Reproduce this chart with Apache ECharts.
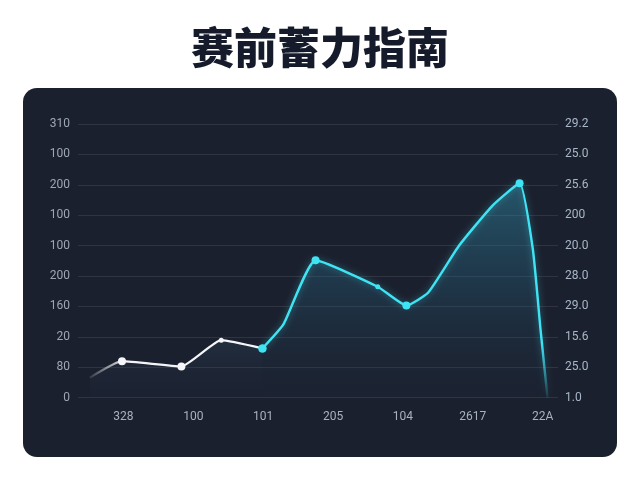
<!DOCTYPE html>
<html>
<head>
<meta charset="utf-8">
<script src="https://cdn.jsdelivr.net/npm/echarts@6/dist/echarts.min.js"></script>
<style>
html,body{margin:0;padding:0;background:#ffffff;}
#c{width:640px;height:480px;}
</style>
</head>
<body>
<div id="c"></div>
<script>
// ---- data ----
const title = '赛前蓄力指南';
const xLabels = ['328', '100', '101', '205', '104', '2617', '22A'];
const leftLabels = ['0', '80', '20', '160', '200', '100', '100', '200', '100', '310'];
const rightLabels = ['1.0', '25.0', '15.6', '29.0', '28.0', '20.0', '200', '25.6', '25.0', '29.2'];
// x in label-slot units (label i sits at i+1), y in gridline-step units
const xs = [0.52, 0.98, 1.83, 2.40, 2.99, 3.29, 3.75, 4.64, 5.05, 5.36, 5.80, 6.28, 6.67, 6.86, 6.97, 7.07];
const ys = [0.66, 1.20, 1.03, 1.89, 1.62, 2.41, 4.52, 3.65, 3.03, 3.45, 4.99, 6.31, 7.05, 4.88, 2.24, 0];
const splitAt = 4; // index where the line turns from white to cyan

// ---- build ----
const WHITE = '#f4f6fa';
const CYAN = '#3fe4f4';
const bigMarks = new Set([1, 2, 4, 6, 8, 12]);
const smallMarks = new Set([3, 7]);

function pt(i, color) {
  const item = { value: [xs[i], ys[i]] };
  if (bigMarks.has(i)) {
    item.symbolSize = 8;
    item.itemStyle = { color: color, borderWidth: 0 };
  } else if (smallMarks.has(i)) {
    item.symbolSize = 5;
    item.itemStyle = { color: color, borderWidth: 0 };
  } else {
    item.symbolSize = 0;
  }
  return item;
}
const whiteData = [];
for (let i = 0; i <= splitAt; i++) whiteData.push(pt(i, i === splitAt ? CYAN : WHITE));
const cyanData = [];
for (let i = splitAt; i < xs.length; i++) cyanData.push(pt(i, CYAN));

const chart = echarts.init(document.getElementById('c'));
chart.setOption({
  backgroundColor: '#ffffff',
  animation: false,
  title: {
    text: title,
    left: 'center',
    top: 21,
    textStyle: {
      fontFamily: 'Noto Sans CJK SC',
      fontSize: 43,
      fontWeight: 900,
      color: '#151b2b'
    }
  },
  graphic: [{
    type: 'rect',
    z: -10,
    shape: { x: 23, y: 88, width: 594, height: 369, r: 14 },
    style: { fill: '#1b202e' }
  }],
  grid: { left: 78, right: 82, top: 124, bottom: 82.3 },
  xAxis: {
    type: 'value',
    min: 0.35,
    max: 7.22,
    axisLine: { show: false },
    axisTick: { show: false },
    splitLine: { show: false },
    axisLabel: {
      customValues: [1, 2, 3, 4, 5, 6, 7],
      formatter: v => xLabels[Math.round(v) - 1] || '',
      color: '#a9b1bf',
      fontSize: 12,
      fontFamily: 'Roboto',
      margin: 13
    }
  },
  yAxis: [{
    type: 'value',
    min: 0, max: 9, interval: 1,
    axisLine: { show: false },
    axisTick: { show: false },
    splitLine: { lineStyle: { color: 'rgba(255,255,255,0.09)', width: 1 } },
    axisLabel: {
      formatter: v => leftLabels[Math.round(v)],
      color: '#9ea6b5',
      fontSize: 12,
      fontFamily: 'Roboto',
      margin: 8
    }
  }, {
    type: 'value',
    min: 0, max: 9, interval: 1,
    position: 'right',
    axisLine: { show: false },
    axisTick: { show: false },
    splitLine: { show: false },
    axisLabel: {
      formatter: v => rightLabels[Math.round(v)],
      color: '#a8b8c8',
      fontSize: 12,
      fontFamily: 'Roboto',
      margin: 7
    }
  }],
  series: [{
    type: 'line',
    data: whiteData,
    smooth: 0.15,
    symbol: 'circle',
    z: 3,
    lineStyle: {
      width: 2.2,
      color: new echarts.graphic.LinearGradient(0, 0, 1, 0, [
        { offset: 0, color: 'rgba(255,255,255,0.05)' },
        { offset: 0.22, color: 'rgba(255,255,255,0.95)' },
        { offset: 1, color: WHITE }
      ])
    },
    areaStyle: {
      color: new echarts.graphic.LinearGradient(0, 0, 0, 1, [
        { offset: 0, color: 'rgba(70,120,150,0.22)' },
        { offset: 1, color: 'rgba(40,70,95,0.05)' }
      ])
    }
  }, {
    type: 'line',
    data: cyanData,
    smooth: 0.15,
    symbol: 'circle',
    z: 4,
    lineStyle: {
      width: 2.4,
      color: new echarts.graphic.LinearGradient(0, 0, 0, 1, [
        { offset: 0, color: CYAN },
        { offset: 0.74, color: CYAN },
        { offset: 1, color: 'rgba(63,228,244,0.05)' }
      ]),
      shadowColor: 'rgba(63,228,244,0.45)',
      shadowBlur: 6
    },
    areaStyle: {
      color: new echarts.graphic.LinearGradient(0, 0, 0, 1, [
        { offset: 0, color: 'rgba(52,160,190,0.6)' },
        { offset: 0.5, color: 'rgba(40,110,140,0.38)' },
        { offset: 1, color: 'rgba(30,55,75,0.1)' }
      ])
    }
  }]
});
</script>
</body>
</html>
